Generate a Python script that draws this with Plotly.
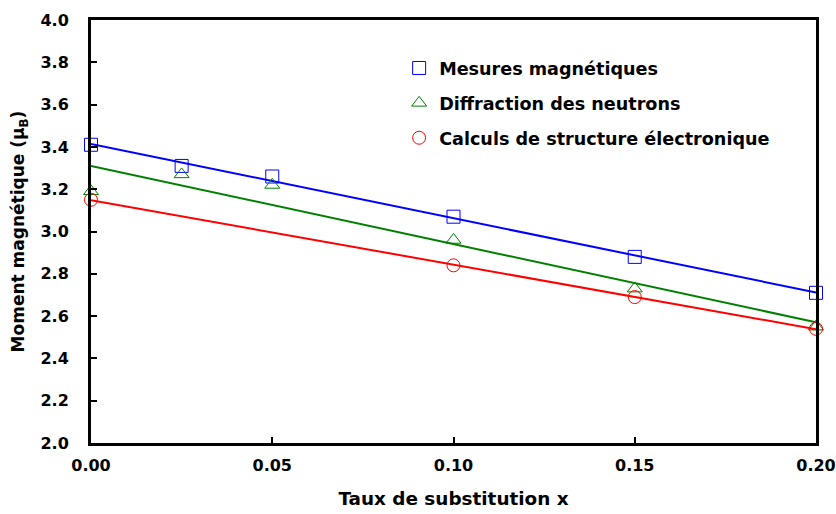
import numpy as np
import plotly.graph_objects as go

x_mes = [0.0, 0.025, 0.05, 0.10, 0.15, 0.20]
y_mes = [3.41, 3.31, 3.26, 3.07, 2.88, 2.71]
x_dif = [0.0, 0.025, 0.05, 0.10, 0.15, 0.20]
y_dif = [3.19, 3.27, 3.22, 2.96, 2.73, 2.55]
x_cal = [0.0, 0.10, 0.15, 0.20]
y_cal = [3.15, 2.84, 2.69, 2.54]

names = ["Mesures magnétiques", "Diffraction des neutrons", "Calculs de structure électronique"]
line_colors = ["#0000FF", "#008000", "#FF0000"]
symbols = ["square-open", "triangle-up-open", "circle-open"]
x_tick_vals = [0.0, 0.05, 0.10, 0.15, 0.20]
x_tick_text = ["0.00", "0.05", "0.10", "0.15", "0.20"]

FONT = "DejaVu Sans, Arial, sans-serif"
fig = go.Figure()
series = [(x_mes, y_mes), (x_dif, y_dif), (x_cal, y_cal)]
xfit = np.array([0.0, 0.20])
for i, (xs, ys) in enumerate(series):
    k, b = np.polyfit(xs, ys, 1)
    fig.add_trace(go.Scatter(x=xfit, y=k * xfit + b, mode="lines",
                             line=dict(color=line_colors[i], width=2),
                             showlegend=False, legendgroup=str(i), hoverinfo="skip", cliponaxis=False))
for i, (xs, ys) in enumerate(series):
    fig.add_trace(go.Scatter(x=xs, y=ys, mode="markers", name=names[i], legendgroup=str(i),
                             marker=dict(symbol=symbols[i], size=13, color=line_colors[i],
                                         line=dict(width=1, color=line_colors[i])),
                             cliponaxis=False))

fig.update_layout(
    width=836, height=514,
    margin=dict(l=91, r=20, t=20, b=71),
    paper_bgcolor="white", plot_bgcolor="white",
    font=dict(family=FONT, size=16, color="black"),
    legend=dict(x=0.425, y=0.929, xanchor="left", yanchor="top", bgcolor="rgba(0,0,0,0)",
                tracegroupgap=9, font=dict(family=FONT, size=17.6, color="black", weight="bold")),
    xaxis=dict(range=[0, 0.20], tickvals=x_tick_vals, ticktext=x_tick_text, automargin=False,
               ticks="inside", ticklen=6, tickwidth=2, tickcolor="black",
               showline=True, linewidth=3, linecolor="black", mirror=True,
               showgrid=False, zeroline=False, ticklabelstandoff=6,
               tickfont=dict(family=FONT, size=16, weight="bold"),
               title=dict(text="Taux de substitution x", standoff=18,
                          font=dict(family=FONT, size=18.4, weight="bold"))),
    yaxis=dict(range=[2.0, 4.0], dtick=0.2, tickformat=".1f", automargin=False,
               ticks="inside", ticklen=6, tickwidth=2, tickcolor="black",
               showline=True, linewidth=3, linecolor="black", mirror=True,
               showgrid=False, zeroline=False, ticklabelstandoff=16,
               tickfont=dict(family=FONT, size=16, weight="bold"),
               title=dict(text="Moment magnétique (μ<sub>B</sub>)", standoff=12,
                          font=dict(family=FONT, size=17, weight="bold"))),
)
fig.write_html("out.html", config={"displayModeBar": False},
               post_script="document.body.style.margin='0';document.body.style.overflow='hidden';")
